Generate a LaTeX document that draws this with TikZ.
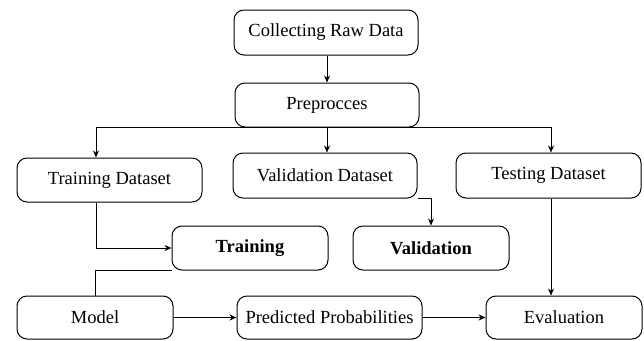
\documentclass[tikz,border=0pt]{standalone}
\usepackage{fontspec}
\setmainfont{Liberation Serif}
\usetikzlibrary{arrows.meta,calc}
\begin{document}
\begin{tikzpicture}[x=1pt,y=-1pt,
  box/.style={draw,line width=1pt,rounded corners=10pt,inner sep=0pt,
    font=\fontsize{18.5}{21}\selectfont},
  conn/.style={line width=0.9pt},
  arr/.style={conn,-{Stealth[length=7pt,width=6pt]}}]
\useasboundingbox (0,0) rectangle (644,340);
\node[box,minimum width=184pt,minimum height=45pt] (crd) at (326,32.5) {Collecting Raw Data};
\node[box,minimum width=184pt,minimum height=44pt] (pre) at (327,105) {Preprocces};
\node[box,minimum width=185pt,minimum height=44pt] (td) at (109.5,180) {Training Dataset};
\node[box,minimum width=184pt,minimum height=45pt] (vd) at (325,175.5) {Validation Dataset};
\node[box,minimum width=185pt,minimum height=45pt] (tsd) at (548.5,175.5) {Testing Dataset};
\node[box,minimum width=156pt,minimum height=44pt] (tr) at (250,248) {\textbf{Training}};
\node[box,minimum width=156pt,minimum height=44pt] (val) at (431,248) {\textbf{Validation}};
\node[box,minimum width=156pt,minimum height=43pt] (model) at (95,317.5) {Model};
\node[box,minimum width=185pt,minimum height=43pt] (pp) at (329.5,317.5) {Predicted Probabilities};
\node[box,minimum width=156pt,minimum height=43pt] (ev) at (564,317.5) {Evaluation};
\draw[arr] (crd.south -| pre.north) -- (pre.north);
\draw[arr] (pre.south) -| ([xshift=-13.5pt]td.north);
\draw[arr] (pre.south) -- (pre.south |- vd.north);
\draw[arr] (pre.south) -| ([xshift=2.5pt]tsd.north);
\draw[arr] ([xshift=-13.5pt]td.south) |- (tr.west);
\draw[arr] (vd.south east) -| (val.north);
\draw[conn] (tr.south west) -| (model.north);
\draw[arr] ([xshift=2.5pt]tsd.south) -- ([xshift=2.5pt]tsd.south |- ev.north);
\draw[arr] (model.east) -- (pp.west);
\draw[arr] (pp.east) -- (ev.west);
\end{tikzpicture}
\end{document}
